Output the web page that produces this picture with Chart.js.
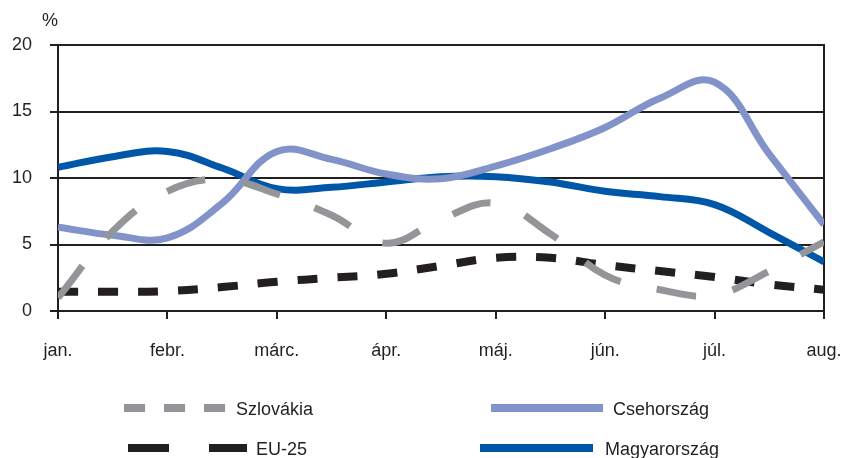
<!DOCTYPE html>
<html>
<head>
<meta charset="utf-8">
<script src="https://cdn.jsdelivr.net/npm/chart.js@4/dist/chart.umd.min.js"></script>
<style>
  html, body { margin: 0; padding: 0; background: #fff; }
  #wrap { position: relative; width: 841px; height: 458px; font-family: "Liberation Sans", Arial, sans-serif; color: #231f20; }
  #c { position: absolute; left: 0; top: 0; }
  .unit { position: absolute; left: 42px; top: 9px; font-size: 18px; line-height: 22px; }
  .lg { position: absolute; font-size: 18px; line-height: 22px; white-space: nowrap; }
  #lgsvg { position: absolute; left: 0; top: 0; }
</style>
</head>
<body>
<div id="wrap">
  <canvas id="c" width="841" height="458"></canvas>
  <div class="unit">%</div>
  <svg id="lgsvg" width="841" height="458"></svg>
</div>
<script>
// Month labels on the x axis (one tick per month)
const months = ['jan.', 'febr.', 'márc.', 'ápr.', 'máj.', 'jún.', 'júl.', 'aug.'];
// Half-month observation points (0 = jan., 7 = aug.)
const xPoints = [0, 0.5, 1, 1.5, 2, 2.5, 3, 3.5, 4, 4.5, 5, 5.5, 6, 6.5, 7];

// Series values, %
const szlovakia    = [1.0, 6.0, 9.0, 9.9, 8.8, 7.2, 5.1, 6.9, 8.1, 5.8, 2.7, 1.6, 1.2, 3.0, 5.2];
const csehorszag   = [6.3, 5.7, 5.5, 8.1, 12.0, 11.4, 10.3, 9.95, 10.9, 12.2, 13.8, 16.0, 17.2, 11.8, 6.5];
const eu25         = [1.45, 1.45, 1.5, 1.8, 2.2, 2.5, 2.8, 3.4, 4.0, 4.0, 3.45, 3.0, 2.55, 2.0, 1.6];
const magyarorszag = [10.8, 11.6, 12.0, 10.75, 9.2, 9.3, 9.7, 10.1, 10.1, 9.7, 9.0, 8.6, 8.0, 5.9, 3.7];

// Y axis range and tick step
const yMin = 0, yMax = 20, yStep = 5;

const ink = '#231f20';
const colors = {
  szlovakia: '#939598',
  cseh: '#8193c9',
  eu: '#231f20',
  magyar: '#0057a8'
};

function pts(values) {
  return values.map((v, i) => ({ x: xPoints[i], y: v }));
}

const datasets = [
  { label: 'Szlovákia', data: pts(szlovakia), borderColor: colors.szlovakia, borderWidth: 7, borderDash: [40, 37], borderCapStyle: 'butt' },
  { label: 'Csehország', data: pts(csehorszag), borderColor: colors.cseh, borderWidth: 7 },
  { label: 'EU-25', data: pts(eu25), borderColor: colors.eu, borderWidth: 8, borderDash: [20, 20], borderCapStyle: 'butt' },
  { label: 'Magyarország', data: pts(magyarorszag), borderColor: colors.magyar, borderWidth: 7 }
];
datasets.forEach(d => { d.pointRadius = 0; d.tension = 0.4; d.fill = false; d.backgroundColor = d.borderColor; });

const font = { family: '"Liberation Sans", Arial, sans-serif', size: 18 };

new Chart(document.getElementById('c'), {
  type: 'line',
  data: { datasets },
  options: {
    responsive: false,
    animation: false,
    layout: { padding: { top: 45, left: 0, right: 0, bottom: 0 } },
    plugins: { legend: { display: false }, tooltip: { enabled: false } },
    scales: {
      x: {
        type: 'linear', min: 0, max: 7,
        afterFit: s => { s.height = 147; s.paddingLeft = 0; s.paddingRight = 0; },
        afterBuildTicks: s => { s.ticks = months.map((m, i) => ({ value: i })); },
        ticks: { stepSize: 1, color: ink, font, padding: 21, maxRotation: 0, autoSkip: false,
                 callback: v => months[v] },
        grid: { drawOnChartArea: false, drawTicks: true, tickLength: 8, color: ink, lineWidth: 2 },
        border: { display: true, color: ink, width: 2 }
      },
      y: {
        min: yMin, max: yMax,
        afterFit: s => { s.width = 58; s.paddingTop = 0; s.paddingBottom = 0; },
        ticks: { stepSize: yStep, color: ink, font, padding: 18 },
        grid: { color: ink, lineWidth: 2, tickLength: 8, drawTicks: true },
        border: { display: true, color: ink, width: 2 }
      },
      y2: {
        position: 'right', min: yMin, max: yMax,
        afterFit: s => { s.width = 17; s.paddingTop = 0; s.paddingBottom = 0; },
        ticks: { display: false },
        grid: { drawOnChartArea: false, drawTicks: false },
        border: { display: true, color: ink, width: 2 }
      }
    }
  }
});

// Legend: two columns, two rows, built from the datasets
const legendLayout = [
  { ds: 0, x1: 124, x2: 225, y: 408, dash: '21 19', text: 236 },
  { ds: 1, x1: 491, x2: 603, y: 408, dash: null, text: 613 },
  { ds: 2, x1: 128, x2: 247, y: 448, dash: '41 40', text: 256 },
  { ds: 3, x1: 480, x2: 593, y: 448, dash: null, text: 605 }
];
const svg = document.getElementById('lgsvg');
const wrap = document.getElementById('wrap');
legendLayout.forEach(l => {
  const d = datasets[l.ds];
  const ln = document.createElementNS('http://www.w3.org/2000/svg', 'line');
  ln.setAttribute('x1', l.x1); ln.setAttribute('x2', l.x2);
  ln.setAttribute('y1', l.y); ln.setAttribute('y2', l.y);
  ln.setAttribute('stroke', d.borderColor);
  ln.setAttribute('stroke-width', 8);
  if (l.dash) ln.setAttribute('stroke-dasharray', l.dash);
  svg.appendChild(ln);
  const t = document.createElement('div');
  t.className = 'lg';
  t.textContent = d.label;
  t.style.left = l.text + 'px';
  t.style.top = (l.y - 10) + 'px';
  wrap.appendChild(t);
});
</script>
</body>
</html>
